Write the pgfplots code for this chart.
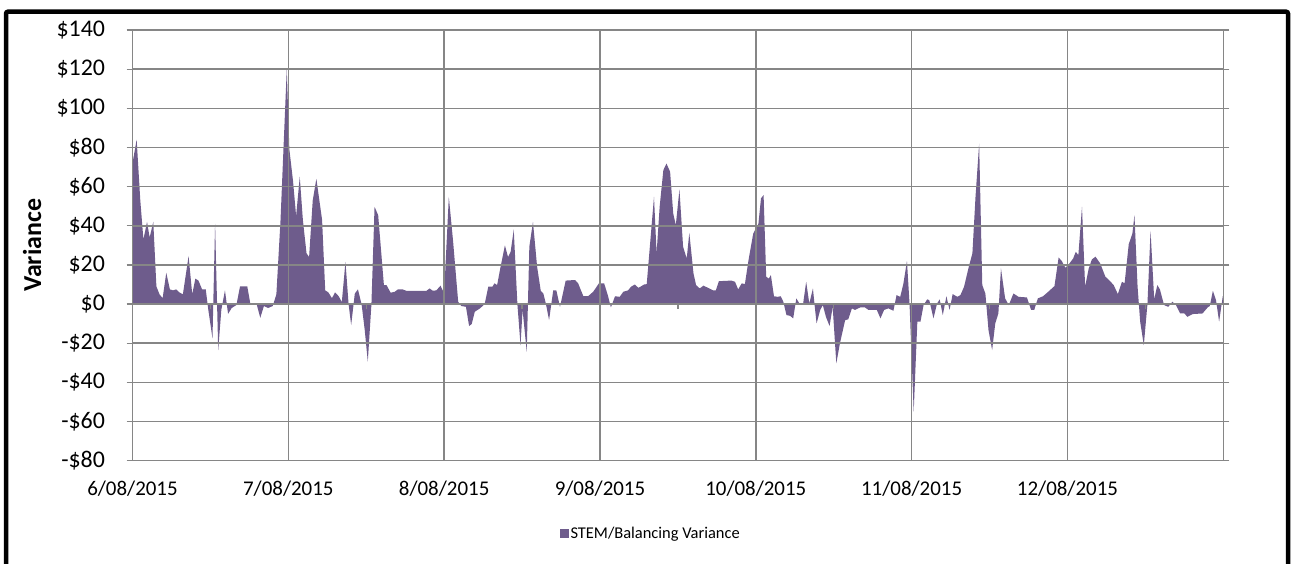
\documentclass[border=0pt]{standalone}
\usepackage{pgfplots}
\pgfplotsset{compat=1.18}
\usepackage{fontspec}
\setmainfont{Carlito}
\definecolor{varc}{RGB}{110,92,140}
\definecolor{gridc}{RGB}{134,134,134}
\begin{document}
\begin{tikzpicture}
\useasboundingbox (0,0) rectangle (1293bp,564bp);
\clip (0,0) rectangle (1293bp,564bp);
\begin{axis}[
  at={(132.5bp,103.3bp)}, anchor=south west,
  scale only axis, width=1090.8bp, height=430.7bp,
  xmin=0, xmax=210, ymin=-80, ymax=140,
  axis on top,
  xtick={0,30,...,210},
  xticklabels={6/08/2015,7/08/2015,8/08/2015,9/08/2015,10/08/2015,11/08/2015,12/08/2015,},
  ytick={-80,-60,...,140},
  yticklabels={-\$80,-\$60,-\$40,-\$20,\$0,\$20,\$40,\$60,\$80,\$100,\$120,\$140},
  grid=major,
  major grid style={gridc, line width=1.5bp},
  axis line style={gridc, line width=1.5bp},
  xtick style={draw=none},
  ytick style={gridc, line width=1.3bp},
  tick align=outside,
  major tick length=6bp,
  ticklabel style={text=black},
  xticklabel style={font=\fontsize{21}{25}\selectfont, yshift=-11bp},
  yticklabel style={font=\fontsize{24}{28}\selectfont, xshift=-18bp},
  ylabel={Variance},
  ylabel style={at={(axis description cs:-0.092,0.5)}, anchor=center, font=\fontsize{26}{30}\selectfont\bfseries},
  legend style={at={(0.475,-0.170)}, anchor=center, draw=none, fill=none, font=\fontsize{16.5}{20}\selectfont},
  legend image code/.code={\fill[varc] (0bp,-4.5bp) rectangle (9bp,4.5bp);},
]
\addplot[fill=varc, draw=none] coordinates {
(0,0) (0,72) (0.8,84) (1.5,53) (2.1,33) (2.8,42) (3.3,34) (4.0,42) (4.6,9) (5.2,5) (5.8,3) (6.5,16) (7.2,7.5) (7.8,7) (8.4,7.5) (9.0,6) (9.7,5) (10.8,24.5) (11.5,5) (12.1,13) (12.7,12) (13.4,7.5) (14.1,7.5) (14.6,-3) (15.4,-17.5) (15.9,41) (16.5,-23.5) (17.1,-3) (17.8,7) (18.4,-5) (19.1,-2) (20.0,-0.5) (20.7,9) (22.1,9) (22.7,0) (23.9,0) (24.6,-7) (25.3,-1) (26.1,-2) (27.0,-1) (27.7,5) (28.5,43) (29.7,120) (30.2,79) (30.9,63) (31.5,45) (32.2,65) (32.8,43) (33.5,26) (34.0,24) (34.7,53) (35.4,64) (36.5,43) (37.1,7) (37.7,6) (38.4,3) (39.0,6) (39.7,4) (40.3,1) (41.0,21.6) (41.6,0) (42.1,-10.7) (42.8,5.4) (43.4,7.5) (44.1,0) (44.7,-13) (45.3,-29.4) (46.0,0) (46.6,49.7) (47.3,45.4) (48.4,9.7) (48.9,9.7) (49.7,5.8) (50.5,6.3) (51.1,7.5) (52.0,7.5) (52.7,6.8) (56.6,6.8) (57.2,8) (57.8,6.8) (58.5,7) (59.3,9.4) (60.0,5.4) (60.9,54.8) (61.7,32.7) (62.7,1.2) (63.3,-1) (64.2,-1.4) (64.8,-11.2) (65.3,-10.2) (65.9,-3.9) (66.9,-2.2) (67.8,0) (68.5,8.9) (69.3,8.9) (69.7,10.6) (70.2,9.7) (70.8,18.2) (71.7,30) (72.3,24) (72.8,26.7) (73.4,38) (74.1,0) (74.7,-21) (75.1,-3) (75.9,-24.3) (76.4,29.3) (77.1,42) (77.9,19) (78.6,6.8) (79.1,5.4) (79.6,0) (80.2,-8.2) (81.0,7) (81.6,7) (82.3,-1.4) (83.4,12) (85.2,12.3) (85.8,10.6) (86.8,4) (87.7,4) (88.7,6.3) (89.8,10.6) (90.8,10.6) (91.5,4.6) (92.1,-1.7) (92.9,4) (93.8,3.7) (94.5,6.3) (95.4,7) (96.0,8.9) (96.7,10) (97.4,8.3) (98.0,9.2) (98.5,10) (99.0,10.2) (100.4,54.8) (100.9,26) (101.5,50) (102.2,68.4) (102.8,71.8) (103.5,67.6) (104.1,46.3) (104.6,40.3) (105.3,58.6) (106.0,29.3) (106.7,23.3) (107.2,36.4) (108.0,15.7) (108.5,9.7) (109.2,8) (109.9,9.4) (110.8,8.3) (111.8,7) (112.3,7) (112.9,11.7) (115.3,12) (116.0,11.4) (116.6,7.5) (117.3,10.6) (117.9,10.2) (118.6,22.5) (119.5,36) (120.5,41) (121.0,54) (121.5,55.7) (122.0,14) (122.5,13) (122.9,14.8) (123.5,4) (124.2,3.7) (124.8,4) (125.3,1.2) (125.9,-5.6) (126.6,-6) (127.2,-7.3) (127.8,2.9) (128.4,0.3) (129.1,0) (129.7,11.4) (130.3,0.3) (131.0,8) (131.3,0) (131.7,-9.9) (132.4,-3) (132.9,-0.5) (133.5,-6.5) (134.2,-11.2) (134.8,-1.4) (135.5,-30.3) (136.2,-20) (137.2,-8.2) (137.8,-7.8) (138.5,-2.2) (139.1,-3) (140.1,-1.7) (141.0,-1.7) (141.7,-3) (143.3,-3) (144.0,-7.3) (144.7,-3) (145.5,-2.2) (146.5,-3.4) (147.1,4.6) (147.8,3.7) (148.4,10.2) (149.1,22) (149.6,0) (150.4,-55) (151.1,-9) (151.7,-9) (152.3,-0.5) (153.0,2.4) (153.4,2) (154.2,-7.3) (154.9,0.3) (155.4,2.4) (156.0,-5.6) (156.7,4) (157.3,-3) (157.9,5.1) (158.8,3.7) (159.4,4.6) (160.1,8.9) (161.0,19) (161.7,25.9) (162.3,54.8) (163.0,82) (163.6,9.7) (164.2,5.4) (164.8,-13.3) (165.5,-23.5) (166.1,-9.9) (166.7,-4.8) (167.2,18.2) (168.0,2.9) (168.7,-0.5) (169.6,5.4) (170.6,3.7) (172.2,3.4) (173.0,-3) (173.6,-3) (174.3,2.9) (175.3,4) (176.3,6.3) (177.5,9.2) (178.3,23.8) (178.9,22) (179.6,18.5) (180.4,20.8) (181.1,23.3) (181.6,26.7) (182.1,25) (182.8,49.7) (183.4,8.9) (184.1,18.2) (184.7,22.8) (185.4,24.2) (186.3,20.8) (187.3,14) (188.1,12) (188.9,9.7) (189.7,5.1) (190.5,11.4) (191.0,10.6) (191.8,30.6) (192.5,36) (192.9,45.4) (193.5,8.9) (194.0,-9) (194.7,-21) (195.4,0) (196.0,37.4) (196.7,2.4) (197.3,9.7) (197.8,7.5) (198.6,-0.5) (199.4,-1.4) (200.2,1.2) (200.9,-0.5) (201.7,-4.8) (202.5,-4.8) (203.1,-6.5) (204.1,-5.1) (206.0,-4.8) (207.0,-1.7) (207.4,-1) (208.0,6.8) (208.6,2) (209.2,-9) (209.9,4) (210,0)
};
\addlegendentry{STEM/Balancing Variance}
\pgfplotsinvokeforeach{15,45,75,105,135,165,195}{
  \draw[gridc, line width=1.3bp] (axis cs:#1,0) -- (axis cs:#1,-2.5);
}
\end{axis}
\draw[black, line width=4.5bp, rounded corners=2bp] (6bp,-20bp) rectangle (1288bp,552.3bp);
\end{tikzpicture}
\end{document}
